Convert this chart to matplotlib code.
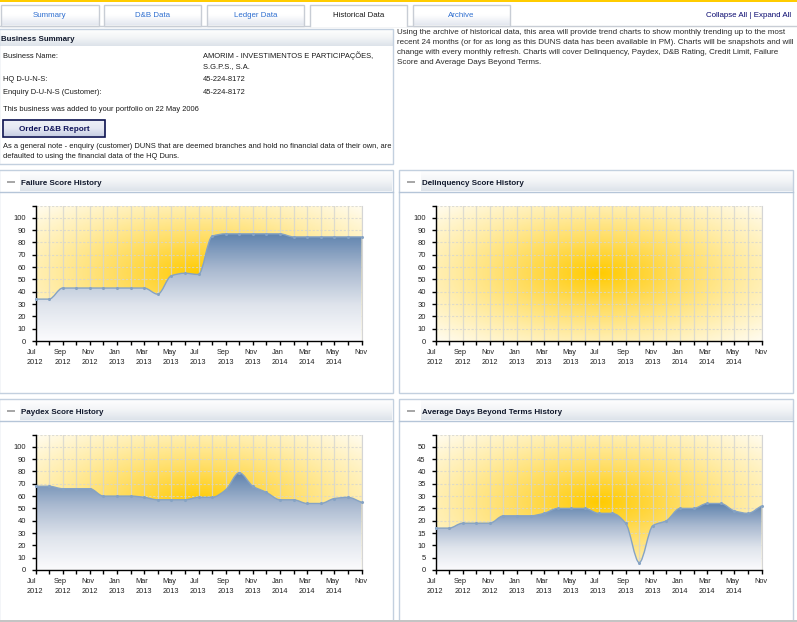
import numpy as np
import matplotlib
matplotlib.use("Agg")
import matplotlib.pyplot as plt
import matplotlib.patches as patches
from matplotlib.path import Path
from matplotlib.colors import LinearSegmentedColormap
from matplotlib.transforms import ScaledTranslation

W, H = 797, 622
plt.rcParams['font.family'] = ['Liberation Sans', 'DejaVu Sans']

month_labels = ["Jul\n2012", "", "Sep\n2012", "", "Nov\n2012", "", "Jan\n2013", "", "Mar\n2013", "",
                "May\n2013", "", "Jul\n2013", "", "Sep\n2013", "", "Nov\n2013", "", "Jan\n2014", "",
                "Mar\n2014", "", "May\n2014", "", "Nov"]
failure_scores = [34, 34, 43, 43, 43, 43, 43, 43, 43, 38, 53, 55, 54, 85, 87, 87, 87, 87, 87, 84.5, 84.5, 84.5, 84.5, 84.5, 84.5]
delinquency_scores = []
paydex_scores = [68, 68, 66, 66, 66, 60, 60, 60, 59, 57, 57, 57, 59, 59, 65, 79, 68, 63, 57, 57, 54, 54, 58, 59, 55]
days_beyond_terms = [17, 17, 19, 19, 19, 22, 22, 22, 23, 25, 25, 25, 23, 23, 19, 3, 18, 20, 25, 25, 27, 27, 24, 23, 26]

score_ticks = list(range(0, 111, 10))
score_labels = [str(v) for v in range(0, 101, 10)] + [""]
days_ticks = list(range(0, 56, 5))
days_labels = [str(v) for v in range(0, 51, 5)] + [""]

tab_names = ["Summary", "D&B Data", "Ledger Data", "Historical Data", "Archive"]

sun = LinearSegmentedColormap.from_list("sun", ["#ffcb00", "#ffdc5c", "#ffedaa", "#fffcf0"])
steel = LinearSegmentedColormap.from_list("steel", ["#5f83ae", "#a9b9d0", "#dfe4ec", "#fbfbfd"])
header_cm = LinearSegmentedColormap.from_list("hdr", ["#ffffff", "#f3f5f7", "#dde3ea"])
tab_cm = LinearSegmentedColormap.from_list("tab", ["#ffffff", "#ffffff", "#e4e8f0"])
btn_cm = LinearSegmentedColormap.from_list("btn", ["#eef0f7", "#e6e9f3", "#c9d0e4"])

fig = plt.figure(figsize=(W / 100, H / 100), dpi=100, facecolor="white")
page = fig.add_axes([0, 0, 1, 1])
page.set_xlim(0, W)
page.set_ylim(H, 0)
page.axis("off")


def box(x0, y0, x1, y1, edge="#c3d0df", face="none", lw=1.0, z=2):
    page.add_patch(patches.Rectangle((x0, y0), x1 - x0, y1 - y0, facecolor=face, edgecolor=edge, linewidth=lw, zorder=z))


def vgrad(x0, y0, x1, y1, cmap, z=1):
    page.imshow(np.linspace(0, 1, 40).reshape(-1, 1), extent=(x0, x1, y1, y0), cmap=cmap, aspect="auto", zorder=z)


def label(x, y, s, size=5.4, color="#1a1a1a", **kw):
    page.text(x, y, s, fontsize=size, color=color, va="baseline", **kw)


def smooth_path(xs, ys, base):
    # monotone cubic tangents, then bezier segments
    xs = np.asarray(xs, float)
    ys = np.asarray(ys, float)
    d = np.diff(ys)
    m = np.zeros(len(ys))
    m[0] = d[0]
    m[-1] = d[-1]
    for i in range(1, len(ys) - 1):
        if d[i - 1] * d[i] > 0:
            m[i] = 2 * d[i - 1] * d[i] / (d[i - 1] + d[i])
    verts = [(xs[0], ys[0])]
    codes = [Path.MOVETO]
    for i in range(len(ys) - 1):
        verts += [(xs[i] + 1 / 3, ys[i] + m[i] / 3), (xs[i + 1] - 1 / 3, ys[i + 1] - m[i + 1] / 3), (xs[i + 1], ys[i + 1])]
        codes += [Path.CURVE4] * 3
    line = Path(verts, codes)
    area = Path(verts + [(xs[-1], base), (xs[0], base), (xs[0], base)], codes + [Path.LINETO, Path.LINETO, Path.CLOSEPOLY])
    return line, area


def panel(x0, y0, x1, y1, title, values, ticks, tick_labels, ymax, plot_box):
    box(x0, y0, x1, y1)
    vgrad(x0 + 21.5, y0 + 1, x1 - 1, y0 + 22, header_cm)
    page.plot([x0, x1], [y0 + 22, y0 + 22], color="#b5c5d8", lw=1, zorder=3)
    page.add_patch(patches.Rectangle((x0 + 8, y0 + 11), 8, 2, facecolor="#a8a8a8", edgecolor="none", zorder=3))
    label(x0 + 22.5, y0 + 15.5, title, size=5.8, color="#10182c", fontweight="bold", zorder=4)

    px0, py0, px1, py1 = plot_box
    ax = fig.add_axes([px0 / W, 1 - py1 / H, (px1 - px0) / W, (py1 - py0) / H])
    n = len(month_labels)
    ax.set_xlim(0, n - 1)
    ax.set_ylim(0, ymax)

    gx, gy = np.meshgrid(np.linspace(-1, 1, 200), np.linspace(-1, 1, 120))
    ax.imshow(np.sqrt((gx ** 2 + gy ** 2) / 2), extent=(0, n - 1, 0, ymax), cmap=sun, vmin=0, vmax=1,
              aspect="auto", zorder=0, origin="lower")
    ax.set_xticks(range(n))
    ax.set_xticklabels(month_labels, fontsize=5.3, color="#222222", linespacing=1.55)
    ax.set_yticks(ticks)
    ax.set_yticklabels(tick_labels, fontsize=5.5, color="#222222")
    ax.tick_params(axis="both", length=3, width=1, color="black")
    ax.tick_params(axis="x", pad=3)
    ax.tick_params(axis="y", pad=4)
    for i, t in enumerate(ax.xaxis.get_major_ticks()):
        t.tick1line.set_color("black" if i % 2 == 0 else "#8a8a8a")
    # two-line labels start left of their tick, the lone last one is centred
    for i, t in enumerate(ax.get_xticklabels()):
        if i == n - 1:
            t.set_transform(t.get_transform() + ScaledTranslation(-0.5 / 100, 0, fig.dpi_scale_trans))
        else:
            t.set_ha("left")
            t.set_multialignment("left")
            t.set_transform(t.get_transform() + ScaledTranslation(-8.5 / 100, 0, fig.dpi_scale_trans))
    ax.grid(axis="x", color="#d6d6d0", lw=0.9, alpha=0.8)
    ax.grid(axis="y", color="#d6d6d0", lw=0.8, ls=(0, (2, 1.5)), alpha=0.8)
    ax.set_axisbelow(True)

    if len(values) > 0:
        xs = np.arange(n)
        line, area = smooth_path(xs, values, 0)
        im = ax.imshow(np.linspace(0, 1, 100).reshape(-1, 1), extent=(0, n - 1, 0, max(values)), cmap=steel,
                       aspect="auto", zorder=2)
        im.set_clip_path(patches.PathPatch(area, transform=ax.transData))
        ax.add_patch(patches.PathPatch(line, facecolor="none", edgecolor="#86a3c4", lw=1, zorder=3, clip_on=False))
        ax.plot(xs, values, ls="none", marker="o", ms=1.2, color="#86a3c4", zorder=3, clip_on=False)
    ax.set_xlim(0, n - 1)
    ax.set_ylim(0, ymax)
    ax.spines["top"].set_visible(False)
    ax.spines["right"].set_color("#d5d5d5")
    ax.spines["left"].set_linewidth(1)
    ax.spines["bottom"].set_linewidth(1)


# top strip
page.add_patch(patches.Rectangle((0, 0), W, 2, facecolor="#ffcc00", edgecolor="none", zorder=3))
page.plot([0, W], [25.5, 25.5], color="#c8cdd5", lw=1, zorder=1)
tab_x = [(1, 99), (104, 201), (207, 304), (310, 407), (413, 510)]
for i, (a, b) in enumerate(tab_x):
    active = tab_names[i] == "Historical Data"
    if active:
        page.add_patch(patches.Rectangle((a, 4.5), b - a, 22, facecolor="white", edgecolor="none", zorder=2))
        page.plot([a, a, b, b], [26, 4.5, 4.5, 26], color="#c8cdd5", lw=1, zorder=3)
    else:
        vgrad(a, 5, b, 25, tab_cm)
        box(a, 4.5, b, 25.5, edge="#c8cdd5")
    label((a + b) / 2, 17, tab_names[i], color="#1a1a1a" if active else "#2f6fd0", ha="center", size=5.7, zorder=4)
label(706, 17, "Collapse All | Expand All", color="#0a0a70", size=5.7, zorder=4)

intro = ("Using the archive of historical data, this area will provide trend charts to show monthly trending up to the most\n"
         "recent 24 months (or for as long as this DUNS data has been available in PM). Charts will be snapshots and will\n"
         "change with every monthly refresh. Charts will cover Delinquency, Paydex, D&B Rating, Credit Limit, Failure\n"
         "Score and Average Days Beyond Terms.")
page.text(397, 28.5, intro, fontsize=5.75, color="#2a2a2a", va="top", linespacing=1.6)

# business summary
box(-1, 28.5, 393.5, 163.5)
vgrad(0, 29, 393, 46, header_cm)
label(1.5, 41, "Business Summary", size=5.7, color="#10182c", fontweight="bold", zorder=4)
label(3, 58, "Business Name:")
label(203, 58, "AMORIM - INVESTIMENTOS E PARTICIPAÇÕES,")
label(203, 68, "S.G.P.S., S.A.")
label(3, 81, "HQ D-U-N-S:")
label(203, 81, "45-224-8172")
label(3, 94, "Enquiry D-U-N-S (Customer):")
label(203, 94, "45-224-8172")
label(3, 111, "This business was added to your portfolio on 22 May 2006")
vgrad(4, 120, 105, 136, btn_cm)
box(3.5, 119.5, 105.5, 136.5, edge="#0c1250", lw=1.2)
label(54.5, 131, "Order D&B Report", size=5.9, color="#10145a", fontweight="bold", ha="center", zorder=4)
label(3, 148, "As a general note - enquiry (customer) DUNS that are deemed branches and hold no financial data of their own, are")
label(3, 158, "defaulted to using the financial data of the HQ Duns.")

panel(-1, 169.5, 393.5, 392.5, "Failure Score History", failure_scores, score_ticks, score_labels, 110, (35.5, 205.5, 361.5, 341))
panel(399.5, 169.5, 793.5, 392.5, "Delinquency Score History", delinquency_scores, score_ticks, score_labels, 110, (435.5, 205.5, 761.5, 341))
panel(-1, 398.5, 393.5, 630, "Paydex Score History", paydex_scores, score_ticks, score_labels, 110, (35.5, 434.5, 361.5, 570))
panel(399.5, 398.5, 793.5, 630, "Average Days Beyond Terms History", days_beyond_terms, days_ticks, days_labels, 55, (435.5, 434.5, 761.5, 570))
page.add_patch(patches.Rectangle((0, 620), W, 2, facecolor="#c4c4c4", edgecolor="none", zorder=5))

page.set_xlim(0, W)
page.set_ylim(H, 0)
fig.savefig("out.png", dpi=100)
